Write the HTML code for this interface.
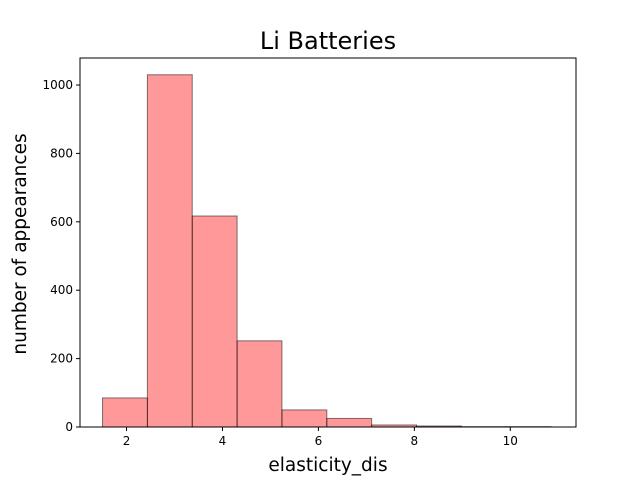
<!DOCTYPE html>
<html><head><meta charset="utf-8"><style>
body{margin:0;background:#fff;}
svg text{font-family:"DejaVu Sans","Liberation Sans",sans-serif;}
</style></head><body>
<svg id="chart" width="640" height="480" xmlns="http://www.w3.org/2000/svg">
<rect width="640" height="480" fill="#fff"/>
<text x="328" y="49" font-size="24" text-anchor="middle">Li Batteries</text>
<g id="bars"></g>
<g id="axes"></g>
<text x="328" y="471" font-size="18.5" text-anchor="middle">elasticity_dis</text>
<text transform="translate(26,244) rotate(-90)" font-size="18.5" text-anchor="middle">number of appearances</text>
</svg>
<script>
const binStart = 1.5;
const binEnd = 10.85;
const counts = [85, 1030, 617, 252, 50, 25, 6, 3, 1, 1];
const xTicks = [2, 4, 6, 8, 10];
const yTicks = [0, 200, 400, 600, 800, 1000];
const L=80,R=576,T=58,B=427,xmin=1.03,xmax=11.37,ymax=1079;
const sx=v=>L+(v-xmin)/(xmax-xmin)*(R-L);
const sy=v=>B-v/ymax*(B-T);
const NS="http://www.w3.org/2000/svg";
const bars=document.getElementById('bars'),axes=document.getElementById('axes');
const w=(binEnd-binStart)/counts.length;
counts.forEach((c,i)=>{
  const r=document.createElementNS(NS,'rect');
  const x0=sx(binStart+i*w),x1=sx(binStart+(i+1)*w);
  r.setAttribute('x',x0);r.setAttribute('y',sy(c));
  r.setAttribute('width',x1-x0);r.setAttribute('height',sy(0)-sy(c));
  r.setAttribute('fill','rgba(255,0,0,0.4)');r.setAttribute('stroke','rgba(0,0,0,0.5)');r.setAttribute('stroke-width','1');
  
  
  bars.appendChild(r);
});
const frame=document.createElementNS(NS,'rect');
frame.setAttribute('x',L);frame.setAttribute('y',T);frame.setAttribute('width',R-L);frame.setAttribute('height',B-T);
frame.setAttribute('fill','none');frame.setAttribute('stroke','#000');frame.setAttribute('stroke-width','1');


axes.appendChild(frame);
xTicks.forEach(t=>{
  const x=sx(t);
  const l=document.createElementNS(NS,'line');
  l.setAttribute('x1',x);l.setAttribute('x2',x);l.setAttribute('y1',B);l.setAttribute('y2',B+4);l.setAttribute('stroke','#000');
  
  
  axes.appendChild(l);
  const tx=document.createElementNS(NS,'text');
  tx.setAttribute('x',x);tx.setAttribute('y',B+18);tx.setAttribute('font-size','12');tx.setAttribute('text-anchor','middle');
  tx.textContent=t;
  
  
  axes.appendChild(tx);
});
yTicks.forEach(t=>{
  const y=sy(t);
  const l=document.createElementNS(NS,'line');
  l.setAttribute('x1',L-4);l.setAttribute('x2',L);l.setAttribute('y1',y);l.setAttribute('y2',y);l.setAttribute('stroke','#000');
  
  
  axes.appendChild(l);
  const tx=document.createElementNS(NS,'text');
  tx.setAttribute('x',L-7);tx.setAttribute('y',y+4);tx.setAttribute('font-size','12');tx.setAttribute('text-anchor','end');
  tx.textContent=t;
  
  
  axes.appendChild(tx);
});
</script>
</body></html>
